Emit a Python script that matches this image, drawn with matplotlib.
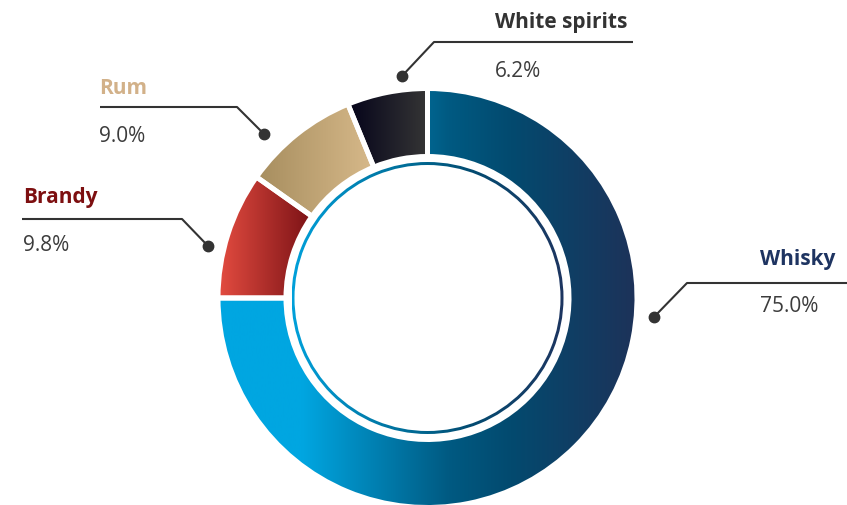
import numpy as np
import matplotlib.pyplot as plt
from matplotlib.colors import LinearSegmentedColormap
from matplotlib.patches import Wedge

plt.rcParams['font.family'] = ['Open Sans', 'DejaVu Sans']

# data
labels = ["Whisky", "Brandy", "Rum", "White spirits"]
shares = [75.0, 9.8, 9.0, 6.2]
pct_labels = ["75.0%", "9.8%", "9.0%", "6.2%"]

# styles
title_colors = ["#1e3461", "#7d0f10", "#d2b189", "#333333"]
gradients = [
    [(0.0, "#00a6e1"), (0.2, "#00a6e1"), (0.55, "#005a82"), (0.7, "#034a6f"), (1.0, "#1d3259")],
    [(0.0, "#e44c40"), (1.0, "#7b1216")],
    [(0.0, "#a68d5e"), (1.0, "#d7b98a")],
    [(0.0, "#05041a"), (1.0, "#353535")],
]
ring_gradient = [(0.0, "#00a0da"), (0.45, "#006a94"), (0.65, "#034c72"), (1.0, "#1d3560")]

# layout (pixel coords, y down)
W, H = 847, 506
cx, cy = 427.5, 299
gap = 5
# leader lines: dot -> elbow -> end, text x, title baseline, pct baseline
leaders = [
    ((654, 318), (687, 284), (847, 284), 760, 265, 312),
    ((208, 247), (182, 220), (22, 220), 23, 203, 251),
    ((264, 135), (237, 108), (100, 108), 99, 94, 142),
    ((402, 77), (434, 43), (633, 43), 495, 28, 77),
]

fig = plt.figure(figsize=(W / 100, H / 100), dpi=100)
ax = fig.add_axes([0, 0, 1, 1])

wedges, _ = ax.pie(shares, startangle=-90, counterclock=True,
                   radius=207 + gap / 2, center=(cx, cy),
                   wedgeprops=dict(width=63 + gap, facecolor='none',
                                   edgecolor='white', linewidth=gap * 0.72))

grad = np.linspace(0, 1, 256)[None, :]


def fill_gradient(patch, stops, zorder):
    ext = patch.get_path().get_extents()
    cmap = LinearSegmentedColormap.from_list("g", stops)
    im = ax.imshow(grad, cmap=cmap, extent=(ext.x0, ext.x1, ext.y1, ext.y0),
                   aspect='auto', interpolation='bicubic', zorder=zorder)
    im.set_clip_path(patch)


for w, stops in zip(wedges, gradients):
    w.set_zorder(2)
    fill_gradient(w, stops, 1)

ring = Wedge((cx, cy), 136, 0, 360, width=3, facecolor='none', edgecolor='none')
ax.add_patch(ring)
fill_gradient(ring, ring_gradient, 1)

for lab, pct, col, (dot, elbow, end, tx, ty, py) in zip(labels, pct_labels, title_colors, leaders):
    ax.plot([dot[0], elbow[0], end[0]], [dot[1], elbow[1], end[1]],
            color="#333333", lw=1.5, solid_capstyle='butt', zorder=3)
    ax.plot([dot[0]], [dot[1]], 'o', color="#333333", ms=7.5, zorder=4)
    ax.text(tx, ty, lab, color=col, fontsize=15, fontweight='bold', va='baseline', ha='left')
    ax.text(tx, py, pct, color="#3c3c3c", fontsize=15, va='baseline', ha='left')

ax.set_xlim(0, W)
ax.set_ylim(H, 0)
ax.set_aspect('auto')
ax.axis('off')

fig.savefig("out.png", dpi=100, facecolor='white')
